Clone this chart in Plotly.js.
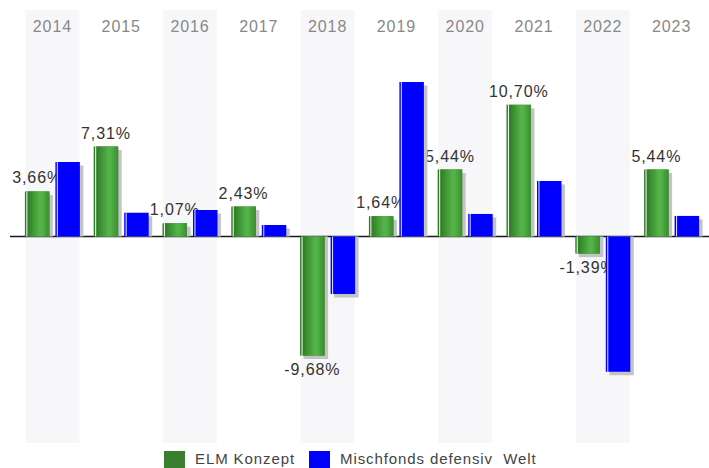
<!DOCTYPE html>
<html><head><meta charset="utf-8">
<script src="https://cdn.plot.ly/plotly-3.0.1.min.js"></script>
<style>
html,body{margin:0;padding:0;background:#fff}
text{letter-spacing:0.9px}
</style></head>
<body><div id="chart" style="width:709px;height:468px"></div>
<script>
// ---- data ----
const years = ['2014','2015','2016','2017','2018','2019','2020','2021','2022','2023'];
const elmKonzept = [3.66, 7.31, 1.07, 2.43, -9.68, 1.64, 5.44, 10.70, -1.39, 5.44];
const mischfonds = [6.06, 1.93, 2.15, 0.93, -4.67, 12.56, 1.83, 4.51, -11.00, 1.67];
const seriesNames = ['ELM Konzept', 'Mischfonds defensiv\u00a0 Welt'];
const shadedYears = ['2014','2016','2018','2020','2022'];

// ---- layout geometry ----
const W = 709, H = 468;
const M = {l: 18, r: 3, t: 10, b: 25};
const PW = W - M.l - M.r, PH = H - M.t - M.b;
const PX = PW / years.length;          // px per category
const YR = [-16.79, 18.41];
const PXY = PH / (YR[1] - YR[0]);        // px per % unit
const SH = 3.5 / PXY;                    // shadow vertical shift
const LBL = 2 / PXY;                     // extra label gap
const FONT = 'Liberation Sans, Arial, Helvetica, sans-serif';

const green = '#2d7a23', blue = '#0000ff', shadow = '#c4c4c4';
const gradStops = [[0, '#2e7b25'], [0.6, '#58b94b'], [1, '#3a8d2f']];

function hex(c){return [1,3,5].map(i=>parseInt(c.substr(i,2),16));}
function lerpColor(t){
  for (let i=0;i<gradStops.length-1;i++){
    const [t0,c0]=gradStops[i],[t1,c1]=gradStops[i+1];
    if (t<=t1){const f=(t-t0)/(t1-t0);const a=hex(c0),b=hex(c1);
      return 'rgb('+a.map((v,k)=>Math.round(v+(b[k]-v)*f)).join(',')+')';}
  }
  return gradStops[gradStops.length-1][1];
}
function bar(vals, offPx, wPx, color, extra){
  return Object.assign({type:'bar', x: years, y: vals, offset: offPx/PX, width: wPx/PX,
    marker:{color: color, line:{width:0}}, showlegend:false, hoverinfo:'skip'}, extra||{});
}
const fmt = v => v.toFixed(2).replace('.', ',') + '%';

const GO = -27.5, BO = 3, BW = 24.5;
const traces = [];
// invisible carrier of the value labels (slightly beyond the bar ends)
traces.push(bar(elmKonzept.map(v => v + Math.sign(v)*LBL), GO, BW, 'rgba(0,0,0,0)', {
  text: elmKonzept.map(fmt), textposition:'outside', cliponaxis:false, constraintext:'none',
  textfont:{size:16, color:'#333', family:FONT}
}));
// shadows
traces.push(bar(elmKonzept.map(v=>v-SH), GO+3.5, BW, shadow));
traces.push(bar(mischfonds.map(v=>v-SH), BO+3.5, BW, shadow));
// green main bar
traces.push(bar(elmKonzept, GO, BW, green));
// green gradient slices
const N = 10, gStart = 2.5, gLen = BW - gStart;
for (let k=0;k<N;k++){
  const s = gStart + k*gLen/N;
  traces.push(bar(elmKonzept, s+GO, gLen/N + (k<N-1?0.5:0), lerpColor((k+0.5)/N)));
}
// green highlight stripe
traces.push(bar(elmKonzept, GO+1.4, 1.1, '#eaf4e8'));
// blue bar + stripe
traces.push(bar(mischfonds, BO, BW, blue));
traces.push(bar(mischfonds, BO+1.4, 1.1, '#d4d4ff'));

// shapes: shaded columns, zero line, legend swatches
const shapes = shadedYears.map(y => {
  const i = years.indexOf(y);
  return {type:'rect', xref:'x', yref:'paper', x0:i-0.393, x1:i+0.393, y0:0, y1:1,
    fillcolor:'#f7f7f9', line:{width:0}, layer:'below'};
});
const px2x = p => (p - M.l)/PW, px2y = p => (H - M.b - p)/PH;
shapes.push({type:'line', xref:'paper', yref:'y', x0:px2x(10), x1:px2x(709), y0:0, y1:0,
  line:{color:'#1a1a1a', width:1.6}, layer:'below'});
const legendColors = ['#3a7f2e', blue];
const legendBoxX = [164, 309], legendTextX = [194, 339];
legendColors.forEach((c,i)=>{
  shapes.push({type:'rect', xref:'paper', yref:'paper', x0:px2x(legendBoxX[i]), x1:px2x(legendBoxX[i]+21),
    y0:px2y(451), y1:px2y(472), fillcolor:c, line:{width:0}});
});
const annotations = seriesNames.map((n,i)=>({
  text:n, xref:'paper', yref:'paper', x:px2x(legendTextX[i]), y:px2y(458), xanchor:'left', yanchor:'middle',
  showarrow:false, borderpad:0, font:{size:15, color:'#444', family:FONT}
}));

const layout = {
  width:W, height:H, margin:M, paper_bgcolor:'#fff', plot_bgcolor:'rgba(0,0,0,0)',
  font:{family:FONT}, barmode:'overlay', showlegend:false,
  xaxis:{type:'category', side:'top', ticklabelposition:'inside', ticks:'', showline:false,
    showgrid:false, zeroline:false, range:[-0.5, years.length-0.5], fixedrange:true,
    tickfont:{size:16, color:'#888', family:FONT}, ticklabelstandoff:8},
  yaxis:{range:YR, visible:false, showgrid:false, zeroline:false, fixedrange:true},
  shapes:shapes, annotations:annotations
};
Plotly.newPlot('chart', traces, layout, {displayModeBar:false, staticPlot:true});
</script>
</body></html>
